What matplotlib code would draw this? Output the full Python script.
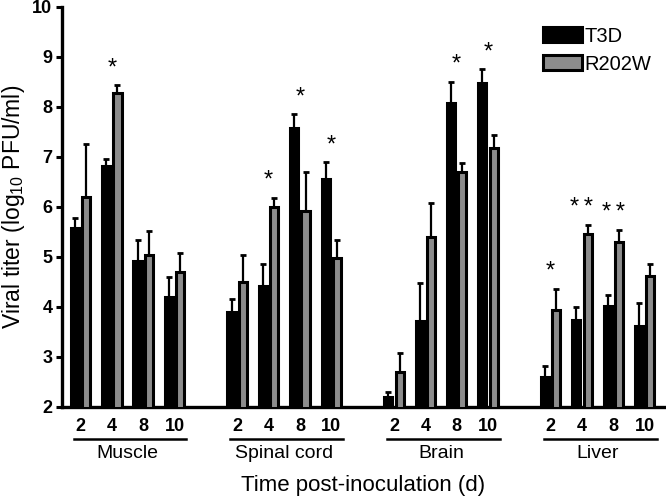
import numpy as np
import matplotlib
matplotlib.use('Agg')
import matplotlib.pyplot as plt

plt.rcParams['font.family'] = ['Liberation Sans', 'DejaVu Sans']

# data (log10 PFU/ml), order: tissue x time
tissues = ['Muscle', 'Spinal cord', 'Brain', 'Liver']
times = ['2', '4', '8', '10']
t3d = [5.57, 6.81, 4.91, 4.20,
       3.89, 4.41, 7.58, 6.55,
       2.19, 3.71, 8.08, 8.48,
       2.60, 3.73, 4.02, 3.61]
t3d_err = [0.20, 0.14, 0.42, 0.39,
           0.26, 0.44, 0.27, 0.34,
           0.11, 0.77, 0.42, 0.27,
           0.21, 0.27, 0.21, 0.46]
r202w = [6.19, 8.28, 5.03, 4.70,
         4.49, 5.99, 5.91, 4.98,
         2.70, 5.40, 6.69, 7.17,
         3.93, 5.45, 5.30, 4.61]
r202w_err = [1.06, 0.15, 0.49, 0.37,
             0.54, 0.19, 0.79, 0.35,
             0.38, 0.68, 0.18, 0.26,
             0.43, 0.18, 0.23, 0.24]
stars = ['', '*', '', '',
         '', '*', '*', '*',
         '', '', '*', '*',
         '*', '*\u2009*', '*\u2009*', '']

t3d = np.array(t3d)
r202w = np.array(r202w)
t3d_err = np.array(t3d_err)
r202w_err = np.array(r202w_err)

# x positions: 4 time points per tissue, one empty slot between tissues
x = np.array([g * 5 + i for g in range(len(tissues)) for i in range(len(times))], dtype=float)

fig = plt.figure(figsize=(6.66, 5), dpi=100)
ax = fig.add_axes([0.0931, 0.1866, 0.9069, 0.80])

off = 0.18
w = 0.26
lw = 2.2
ax.bar(x - off, t3d, w, color='black', edgecolor='black', linewidth=lw, label='T3D', zorder=3)
ax.bar(x + off, r202w, w, color='#8c8c8c', edgecolor='black', linewidth=lw, label='R202W', zorder=3)

zeros = np.zeros_like(t3d)
ax.errorbar(x - off, t3d, yerr=[zeros, t3d_err], fmt='none', ecolor='black',
            elinewidth=1.6, capsize=2.3, capthick=2.0, zorder=2)
ax.errorbar(x + off, r202w, yerr=[zeros, r202w_err], fmt='none', ecolor='black',
            elinewidth=1.6, capsize=2.3, capthick=2.0, zorder=2)

# significance marks
for xi, a, ea, b, eb, s in zip(x, t3d, t3d_err, r202w, r202w_err, stars):
    if s:
        top = max(a + ea, b + eb)
        ax.text(xi, top + 0.12, s, ha='center', va='bottom', fontsize=17)

ax.set_ylim(2, 10)
ax.set_xlim(-0.59, 18.68)
ax.set_yticks(range(2, 11))
ax.set_xticks(x)
ax.set_xticklabels(times * len(tissues))
for lab in ax.get_xticklabels() + ax.get_yticklabels():
    lab.set_fontweight('bold')
    lab.set_fontsize(13)
ax.tick_params(axis='x', length=0, pad=8)
ax.tick_params(axis='y', length=4, width=2.2, pad=3)

for side in ['top', 'right']:
    ax.spines[side].set_visible(False)
for side in ['left', 'bottom']:
    ax.spines[side].set_linewidth(2.4)

# tissue group lines and names
for g, name in enumerate(tissues):
    x0 = g * 5
    ax.plot([x0 - 0.22, x0 + 3.38], [-0.081, -0.081], color='black', lw=1.8,
            transform=ax.get_xaxis_transform(), clip_on=False)
    ax.text(x0 + 1.5, -0.116, name, ha='center', va='center', fontsize=14,
            transform=ax.get_xaxis_transform())

ax.text(9, -0.196, 'Time post-inoculation (d)', ha='center', va='center', fontsize=16,
        transform=ax.get_xaxis_transform())
fig.text(0.021, 0.587, 'Viral titer (log$\\mathregular{_{10}}$ PFU/ml)', rotation=90,
         ha='center', va='center', fontsize=16.5)

ax.legend(loc='upper left', bbox_to_anchor=(0.797, 0.95), frameon=False, fontsize=14.5,
          handlelength=1.9, handleheight=0.8, handletextpad=0.15, labelspacing=0.45,
          borderpad=0, borderaxespad=0)

fig.savefig('out.png', dpi=100)
